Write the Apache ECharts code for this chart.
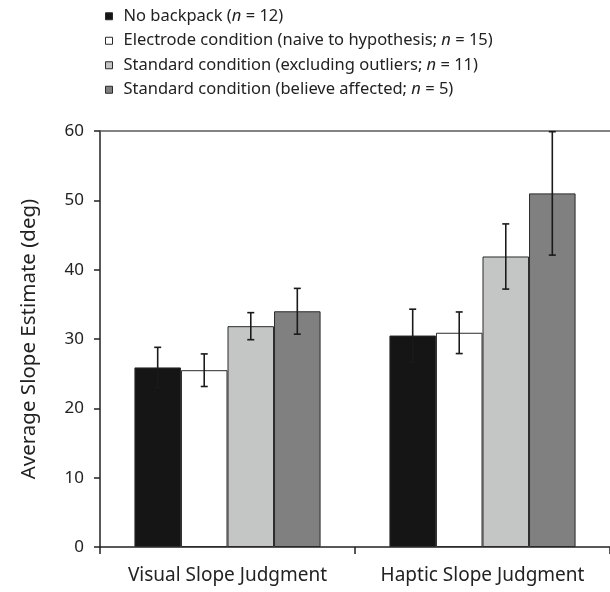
<!DOCTYPE html>
<html>
<head>
<meta charset="utf-8">
<script src="https://cdn.jsdelivr.net/npm/echarts@6/dist/echarts.min.js"></script>
<style>
  html, body { margin: 0; padding: 0; background: #fff; }
  #chart { width: 610px; height: 592px; }
</style>
</head>
<body>
<div id="chart"></div>
<script>
  let categories = ["Visual Slope Judgment", "Haptic Slope Judgment"];
  let seriesNames = [
    "No backpack",
    "Electrode condition",
    "Standard condition (excluding outliers)",
    "Standard condition (believe affected)"
  ];
  let legendTexts = [
    "No backpack ({i|n} = 12)",
    "Electrode condition (naive to hypothesis; {i|n} = 15)",
    "Standard condition (excluding outliers; {i|n} = 11)",
    "Standard condition (believe affected; {i|n} = 5)"
  ];
  let noBackpack = [25.9, 30.5];
  let electrode = [25.5, 30.9];
  let standardExcl = [31.85, 41.9];
  let standardBelieve = [34.0, 51.0];
  let errNoBackpack = [2.9, 3.8];
  let errElectrode = [2.35, 3.0];
  let errStandardExcl = [1.95, 4.7];
  let errStandardBelieve = [3.3, 8.9];
  let yTicks = [0, 10, 20, 30, 40, 50, 60];

  let values = [noBackpack, electrode, standardExcl, standardBelieve];
  let errors = [errNoBackpack, errElectrode, errStandardExcl, errStandardBelieve];
  let colors = ["#151515", "#ffffff", "#c4c6c5", "#808080"];
  let gapPct = 0.27;

  let font = "'Noto Sans', 'Open Sans', sans-serif";

  let barSeries = seriesNames.map(function (name, i) {
    return {
      name: name,
      type: "bar",
      data: values[i],
      barGap: "0%",
      barCategoryGap: "27%",
      itemStyle: { color: colors[i], borderColor: "#2a2a2a", borderWidth: 1 },
      emphasis: { disabled: true },
      markLine: i === 0 ? {
        silent: true,
        symbol: "none",
        label: { show: false },
        lineStyle: { color: "#5a5a5a", type: "solid", width: 1.5 },
        data: [{ yAxis: yTicks[yTicks.length - 1] }]
      } : undefined
    };
  });

  let errData = [];
  values.forEach(function (vals, si) {
    vals.forEach(function (v, ci) {
      errData.push([ci, v, errors[si][ci], si]);
    });
  });

  let errSeries = {
    type: "custom",
    name: "err",
    z: 10,
    data: errData,
    renderItem: function (params, api) {
      let ci = api.value(0);
      let v = api.value(1);
      let e = api.value(2);
      let si = api.value(3);
      let bandW = api.size([1, 0])[0];
      let barW = bandW * (1 - gapPct) / 4;
      let center = api.coord([ci, v]);
      let x = center[0] + (si - 1.5) * barW;
      let yTop = api.coord([ci, v + e])[1];
      let yBot = api.coord([ci, v - e])[1];
      let cap = 3.5;
      let style = { stroke: "#1a1a1a", lineWidth: 1.6 };
      return {
        type: "group",
        children: [
          { type: "line", shape: { x1: x, y1: yTop, x2: x, y2: yBot }, style: style },
          { type: "line", shape: { x1: x - cap, y1: yTop, x2: x + cap, y2: yTop }, style: style },
          { type: "line", shape: { x1: x - cap, y1: yBot, x2: x + cap, y2: yBot }, style: style }
        ]
      };
    }
  };

  let option = {
    animation: false,
    backgroundColor: "#fff",
    textStyle: { fontFamily: font },
    legend: {
      orient: "vertical",
      left: 100,
      top: 1,
      itemWidth: 7,
      itemHeight: 7,
      itemGap: 4,
      icon: "rect",
      data: seriesNames,
      formatter: function (name) {
        return legendTexts[seriesNames.indexOf(name)];
      },
      textStyle: {
        fontFamily: font,
        fontSize: 16.5,
        lineHeight: 20.5,
        color: "#222",
        padding: [0, 0, 0, 6],
        rich: { i: { fontStyle: "italic", fontSize: 16.5, lineHeight: 20.5, fontFamily: font, color: "#222" } }
      },
      itemStyle: { borderColor: "#2a2a2a", borderWidth: 1 }
    },
    grid: { left: 100, right: -4, top: 131, bottom: 45 },
    xAxis: {
      type: "category",
      data: categories,
      axisLine: { lineStyle: { color: "#222", width: 1.5 } },
      axisTick: { show: true, interval: 0, length: 7, lineStyle: { color: "#222", width: 1.5 } },
      axisLabel: { interval: 0, hideOverlap: false, fontFamily: font, fontSize: 19, color: "#222", margin: 19 }
    },
    yAxis: {
      type: "value",
      min: 0,
      max: 60,
      interval: 10,
      name: "Average Slope Estimate (deg)",
      nameLocation: "middle",
      nameGap: 60,
      nameTextStyle: { fontFamily: font, fontSize: 20.5, color: "#222" },
      axisLine: { show: true, lineStyle: { color: "#222", width: 1.5 } },
      axisTick: { show: true, length: 6, lineStyle: { color: "#222", width: 1.5 } },
      axisLabel: { fontFamily: font, fontSize: 17, color: "#222", margin: 16 },
      splitLine: { show: false }
    },
    series: barSeries.concat([errSeries])
  };

  let chart = echarts.init(document.getElementById("chart"));
  chart.setOption(option);
</script>
</body>
</html>
